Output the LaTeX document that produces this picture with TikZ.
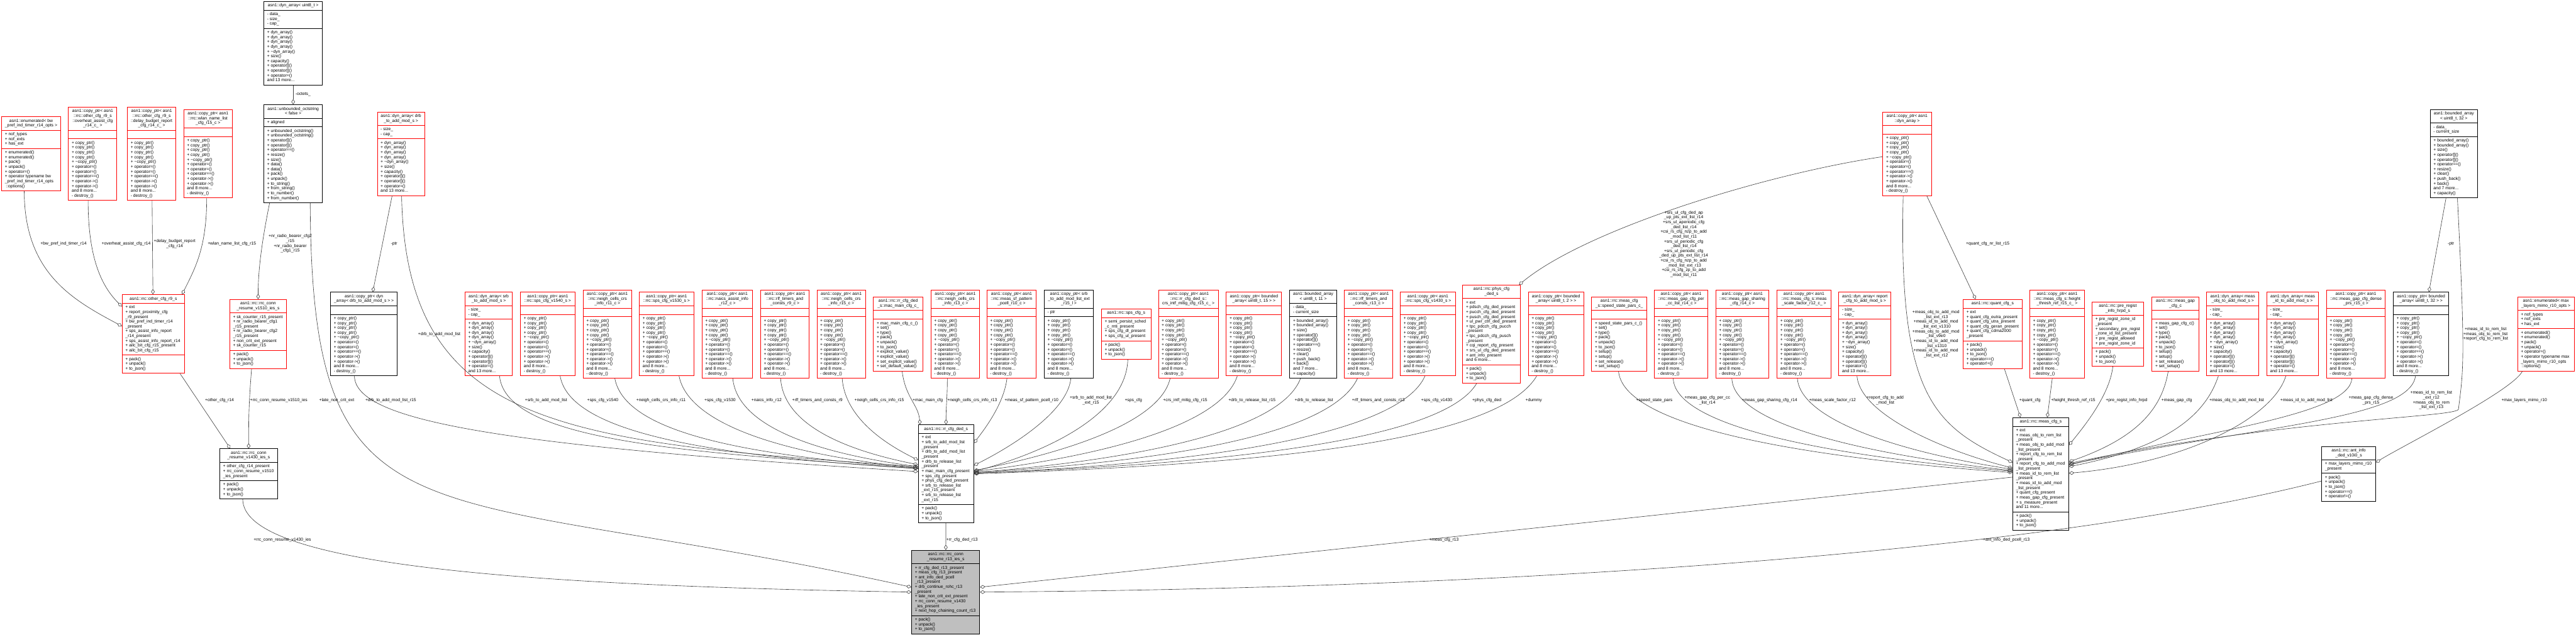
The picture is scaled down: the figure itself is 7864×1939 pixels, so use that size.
\documentclass[tikz,border=0pt]{standalone}
\usepackage{fontspec}
\setmainfont{Liberation Sans}
\usetikzlibrary{shapes.multipart,arrows.meta}

\definecolor{doxred}{HTML}{FF0000}
\definecolor{edgegray}{HTML}{404040}
\definecolor{rootgray}{HTML}{BFBFBF}

% class box: title / attributes / methods
\newcommand{\clsparts}[3]{%
  \begin{tabular}{@{}c@{}}#1\end{tabular}%
  \nodepart{two}\begin{tabular}{@{}l@{}}\strut#2\end{tabular}%
  \nodepart{three}\begin{tabular}{@{}l@{}}#3\end{tabular}}
\newcommand{\cpmeth}{+ copy\_ptr()\\+ copy\_ptr()\\+ copy\_ptr()\\+ copy\_ptr()\\+ \textasciitilde copy\_ptr()\\+ operator=()\\+ operator=()\\+ operator==()\\+ operator->()\\+ operator->()\\and 8 more...\\- destroy\_()}
\newcommand{\dynattr}{- size\_\\- cap\_}
\newcommand{\dynmeth}{+ dyn\_array()\\+ dyn\_array()\\+ dyn\_array()\\+ dyn\_array()\\+ \textasciitilde dyn\_array()\\+ size()\\+ capacity()\\+ operator[]()\\+ operator[]()\\+ operator=()\\and 13 more...}
\newcommand{\bameth}{+ bounded\_array()\\+ bounded\_array()\\+ size()\\+ operator[]()\\+ operator[]()\\+ operator==()\\+ resize()\\+ clear()\\+ push\_back()\\+ back()\\and 7 more...\\+ capacity()}
\newcommand{\pujson}{+ pack()\\+ unpack()\\+ to\_json()}
\newcommand{\enumattr}{+ nof\_types\\+ nof\_exts\\+ has\_ext}

\begin{document}
\begin{tikzpicture}[x=0.5pt, y=-0.5pt,
    cls/.style={rectangle split, rectangle split parts=3,
                rectangle split part align={center,left,left},
                draw, fill=white, line width=0.9pt, inner xsep=5pt, inner ysep=2.5pt,
                font=\fontsize{6.5}{7.33}\selectfont},
    undoc/.style={cls, draw=doxred},
    doc/.style={cls, draw=black},
    focus/.style={cls, draw=black, fill=rootgray},
    aggr/.style={draw=edgegray, line width=0.6pt, -{Diamond[open, length=8pt, width=5.5pt]}},
    lbl/.style={font=\fontsize{6.5}{7.33}\selectfont, align=center, inner sep=0pt}
]
    \fill[white] (0,0) rectangle (7864,1939);
    \useasboundingbox (0,0) rectangle (7864,1939);

    % top rows
    \node[doc, minimum width=89.5pt] (uint8) at (895,132) {\clsparts{asn1::dyn\_array< uint8\_t >}{- data\_\\- size\_\\- cap\_}{\dynmeth}};
    \node[doc, minimum width=89.5pt] (octstr) at (895,469.5) {\clsparts{asn1::unbounded\_octstring\\< false >}{+ aligned}{+ unbounded\_octstring()\\+ unbounded\_octstring()\\+ operator[]()\\+ operator[]()\\+ operator==()\\+ resize()\\+ size()\\+ data()\\+ data()\\+ pack()\\+ unpack()\\+ to\_string()\\+ from\_string()\\+ to\_number()\\+ from\_number()}};
    \node[undoc, minimum width=90pt] (enumbw) at (95,469.5) {\clsparts{asn1::enumerated< bw\\\_pref\_ind\_timer\_r14\_opts >}{\enumattr}{+ enumerated()\\+ enumerated()\\+ pack()\\+ unpack()\\+ operator=()\\+ operator typename bw\\\_pref\_ind\_timer\_r14\_opts\\\hspace{1.5pt}::options()}};
    \node[undoc, minimum width=74pt] (cpoverheat) at (283,469.5) {\clsparts{asn1::copy\_ptr< asn1\\::rrc::other\_cfg\_r9\_s\\::overheat\_assist\_cfg\\\_r14\_c\_ >}{}{\cpmeth}};
    \node[undoc, minimum width=74pt] (cpdelay) at (463,469.5) {\clsparts{asn1::copy\_ptr< asn1\\::rrc::other\_cfg\_r9\_s\\::delay\_budget\_report\\\_cfg\_r14\_c\_ >}{}{\cpmeth}};
    \node[undoc, minimum width=74pt] (cpwlan) at (635,469.5) {\clsparts{asn1::copy\_ptr< asn1\\::rrc::wlan\_name\_list\\\_cfg\_r15\_c >}{}{\cpmeth}};
    \node[undoc, minimum width=72pt] (dyndrb) at (1224,469.5) {\clsparts{asn1::dyn\_array< drb\\\_to\_add\_mod\_s >}{\dynattr}{\dynmeth}};
    \node[undoc, minimum width=74pt] (cpdyn) at (5822,469.5) {\clsparts{asn1::copy\_ptr< asn1\\::dyn\_array >}{}{\cpmeth}};
    \node[doc, minimum width=72pt] (ba32) at (7491,469.5) {\clsparts{asn1::bounded\_array\\< uint8\_t, 32 >}{- data\_\\- current\_size}{\bameth}};

    % member types
    \node[undoc, minimum width=95pt] (other) at (468,1020) {\clsparts{asn1::rrc::other\_cfg\_r9\_s}{+ ext\\+ report\_proximity\_cfg\\\_r9\_present\\+ bw\_pref\_ind\_timer\_r14\\\_present\\+ sps\_assist\_info\_report\\\_r14\_present\\+ sps\_assist\_info\_report\_r14\\+ ailc\_bit\_cfg\_r15\_present\\+ ailc\_bit\_cfg\_r15}{\pujson}};
    \node[undoc, minimum width=86.5pt] (v1510) at (788,1020) {\clsparts{asn1::rrc::rrc\_conn\\\_resume\_v1510\_ies\_s}{+ sk\_counter\_r15\_present\\+ nr\_radio\_bearer\_cfg1\\\_r15\_present\\+ nr\_radio\_bearer\_cfg2\\\_r15\_present\\+ non\_crit\_ext\_present\\+ sk\_counter\_r15}{\pujson}};
    \node[doc, minimum width=102pt] (cpdrb) at (1111,1020) {\clsparts{asn1::copy\_ptr< dyn\\\_array< drb\_to\_add\_mod\_s > >}{}{\cpmeth}};
    \node[undoc, minimum width=72.5pt] (dynsrb) at (1492,1020) {\clsparts{asn1::dyn\_array< srb\\\_to\_add\_mod\_s >}{\dynattr}{\dynmeth}};
    \node[undoc, minimum width=83pt] (cpsps1540) at (1672,1020) {\clsparts{asn1::copy\_ptr< asn1\\::rrc::sps\_cfg\_v1540\_s >}{}{\cpmeth}};
    \node[undoc, minimum width=74pt] (cpcrs11) at (1854,1020) {\clsparts{asn1::copy\_ptr< asn1\\::rrc::neigh\_cells\_crs\\\_info\_r11\_c >}{}{\cpmeth}};
    \node[undoc, minimum width=83pt] (cpsps1530) at (2035,1020) {\clsparts{asn1::copy\_ptr< asn1\\::rrc::sps\_cfg\_v1530\_s >}{}{\cpmeth}};
    \node[undoc, minimum width=77pt] (cpnaics) at (2220,1020) {\clsparts{asn1::copy\_ptr< asn1\\::rrc::naics\_assist\_info\\\_r12\_c >}{}{\cpmeth}};
    \node[undoc, minimum width=74pt] (cprlf9) at (2396,1020) {\clsparts{asn1::copy\_ptr< asn1\\::rrc::rlf\_timers\_and\\\_consts\_r9\_c >}{}{\cpmeth}};
    \node[undoc, minimum width=74pt] (cpcrs15) at (2568,1020) {\clsparts{asn1::copy\_ptr< asn1\\::rrc::neigh\_cells\_crs\\\_info\_r15\_c >}{}{\cpmeth}};
    \node[undoc, minimum width=75.5pt] (mac) at (2742,1020) {\clsparts{asn1::rrc::rr\_cfg\_ded\\\_s::mac\_main\_cfg\_c\_}{}{+ mac\_main\_cfg\_c\_()\\+ set()\\+ type()\\+ pack()\\+ unpack()\\+ to\_json()\\+ explicit\_value()\\+ explicit\_value()\\+ set\_explicit\_value()\\+ set\_default\_value()}};
    \node[undoc, minimum width=74pt] (cpcrs13) at (2916,1020) {\clsparts{asn1::copy\_ptr< asn1\\::rrc::neigh\_cells\_crs\\\_info\_r13\_c >}{}{\cpmeth}};
    \node[undoc, minimum width=75.5pt] (cpmeassf) at (3088,1020) {\clsparts{asn1::copy\_ptr< asn1\\::rrc::meas\_sf\_pattern\\\_pcell\_r10\_c >}{}{\cpmeth}};
    \node[doc, minimum width=75pt] (cpsrbext) at (3263,1020) {\clsparts{asn1::copy\_ptr< srb\\\_to\_add\_mod\_list\_ext\\\_r15\_l >}{- ptr}{\cpmeth}};
    \node[undoc, minimum width=75.5pt] (sps) at (3438,1020) {\clsparts{asn1::rrc::sps\_cfg\_s}{+ semi\_persist\_sched\\\_c\_rnti\_present\\+ sps\_cfg\_dl\_present\\+ sps\_cfg\_ul\_present}{\pujson}};
    \node[undoc, minimum width=91.5pt] (cpcrsintf) at (3628,1020) {\clsparts{asn1::copy\_ptr< asn1\\::rrc::rr\_cfg\_ded\_s::\\crs\_intf\_mitig\_cfg\_r15\_c\_ >}{}{\cpmeth}};
    \node[undoc, minimum width=84.5pt] (cpba15) at (3828,1020) {\clsparts{asn1::copy\_ptr< bounded\\\_array< uint8\_t, 15 > >}{}{\cpmeth}};
    \node[doc, minimum width=71pt] (ba11) at (4009,1020) {\clsparts{asn1::bounded\_array\\< uint8\_t, 11 >}{- data\_\\- current\_size}{\bameth}};
    \node[undoc, minimum width=74pt] (cprlf13) at (4178,1020) {\clsparts{asn1::copy\_ptr< asn1\\::rrc::rlf\_timers\_and\\\_consts\_r13\_c >}{}{\cpmeth}};
    \node[undoc, minimum width=84pt] (cpsps1430) at (4359,1020) {\clsparts{asn1::copy\_ptr< asn1\\::rrc::sps\_cfg\_v1430\_s >}{}{\cpmeth}};
    \node[undoc, minimum width=87.5pt] (phys) at (4553,1020) {\clsparts{asn1::rrc::phys\_cfg\\\_ded\_s}{+ ext\\+ pdsch\_cfg\_ded\_present\\+ pucch\_cfg\_ded\_present\\+ pusch\_cfg\_ded\_present\\+ ul\_pwr\_ctrl\_ded\_present\\+ tpc\_pdcch\_cfg\_pucch\\\_present\\+ tpc\_pdcch\_cfg\_pusch\\\_present\\+ cqi\_report\_cfg\_present\\+ srs\_ul\_cfg\_ded\_present\\+ ant\_info\_present\\and 6 more...}{\pujson}};
    \node[undoc, minimum width=84.5pt] (cpba2) at (4750,1020) {\clsparts{asn1::copy\_ptr< bounded\\\_array< uint8\_t, 2 > >}{}{\cpmeth}};
    \node[undoc, minimum width=84pt] (speed) at (4943,1020) {\clsparts{asn1::rrc::meas\_cfg\\\_s::speed\_state\_pars\_c\_}{}{+ speed\_state\_pars\_c\_()\\+ set()\\+ type()\\+ pack()\\+ unpack()\\+ to\_json()\\+ setup()\\+ setup()\\+ set\_release()\\+ set\_setup()}};
    \node[undoc, minimum width=81pt] (cpgapcc) at (5132,1020) {\clsparts{asn1::copy\_ptr< asn1\\::rrc::meas\_gap\_cfg\_per\\\_cc\_list\_r14\_c >}{}{\cpmeth}};
    \node[undoc, minimum width=81pt] (cpgapshare) at (5319,1020) {\clsparts{asn1::copy\_ptr< asn1\\::rrc::meas\_gap\_sharing\\\_cfg\_r14\_c >}{}{\cpmeth}};
    \node[undoc, minimum width=82pt] (cpscale) at (5507,1020) {\clsparts{asn1::copy\_ptr< asn1\\::rrc::meas\_cfg\_s::meas\\\_scale\_factor\_r12\_c\_ >}{}{\cpmeth}};
    \node[undoc, minimum width=79.5pt] (dynreport) at (5693,1020) {\clsparts{asn1::dyn\_array< report\\\_cfg\_to\_add\_mod\_s >}{\dynattr}{\dynmeth}};
    \node[undoc, minimum width=89.5pt] (quant) at (6083,1020) {\clsparts{asn1::rrc::quant\_cfg\_s}{+ ext\\+ quant\_cfg\_eutra\_present\\+ quant\_cfg\_utra\_present\\+ quant\_cfg\_geran\_present\\+ quant\_cfg\_cdma2000\\\_present}{\pujson\\+ operator==()\\+ operator!=()}};
    \node[undoc, minimum width=83.5pt] (cpheight) at (6280,1020) {\clsparts{asn1::copy\_ptr< asn1\\::rrc::meas\_cfg\_s::height\\\_thresh\_ref\_r15\_c\_ >}{}{\cpmeth}};
    \node[undoc, minimum width=77.5pt] (preregist) at (6465,1020) {\clsparts{asn1::rrc::pre\_regist\\\_info\_hrpd\_s}{+ pre\_regist\_zone\_id\\\_present\\+ secondary\_pre\_regist\\\_zone\_id\_list\_present\\+ pre\_regist\_allowed\\+ pre\_regist\_zone\_id}{\pujson}};
    \node[undoc, minimum width=71.5pt] (gap) at (6641,1020) {\clsparts{asn1::rrc::meas\_gap\\\_cfg\_c}{}{+ meas\_gap\_cfg\_c()\\+ set()\\+ type()\\+ pack()\\+ unpack()\\+ to\_json()\\+ setup()\\+ setup()\\+ set\_release()\\+ set\_setup()}};
    \node[undoc, minimum width=79.5pt] (dynmeasobj) at (6816,1020) {\clsparts{asn1::dyn\_array< meas\\\_obj\_to\_add\_mod\_s >}{\dynattr}{\dynmeth}};
    \node[undoc, minimum width=79pt] (dynmeasid) at (6999,1020) {\clsparts{asn1::dyn\_array< meas\\\_id\_to\_add\_mod\_s >}{\dynattr}{\dynmeth}};
    \node[undoc, minimum width=90pt] (cpdense) at (7192,1020) {\clsparts{asn1::copy\_ptr< asn1\\::rrc::meas\_gap\_cfg\_dense\\\_prs\_r15\_c >}{}{\cpmeth}};
    \node[doc, minimum width=84.5pt] (cpba32) at (7391,1020) {\clsparts{asn1::copy\_ptr< bounded\\\_array< uint8\_t, 32 > >}{}{\cpmeth}};
    \node[undoc, minimum width=86.5pt] (enummimo) at (7772,1020) {\clsparts{asn1::enumerated< max\\\_layers\_mimo\_r10\_opts >}{\enumattr}{+ enumerated()\\+ enumerated()\\+ pack()\\+ unpack()\\+ operator=()\\+ operator typename max\\\_layers\_mimo\_r10\_opts\\\hspace{1.5pt}::options()}};

    % containers
    \node[doc, minimum width=88pt] (v1430) at (759,1447) {\clsparts{asn1::rrc::rrc\_conn\\\_resume\_v1430\_ies\_s}{+ other\_cfg\_r14\_present\\+ rrc\_conn\_resume\_v1510\\\_ies\_present}{\pujson}};
    \node[doc, minimum width=84.5pt] (rr) at (2888,1447) {\clsparts{asn1::rrc::rr\_cfg\_ded\_s}{+ ext\\+ srb\_to\_add\_mod\_list\\\_present\\+ drb\_to\_add\_mod\_list\\\_present\\+ drb\_to\_release\_list\\\_present\\+ mac\_main\_cfg\_present\\+ sps\_cfg\_present\\+ phys\_cfg\_ded\_present\\+ srb\_to\_release\_list\\\_ext\_r15\_present\\+ srb\_to\_release\_list\\\_ext\_r15}{\pujson}};
    \node[doc, minimum width=85.5pt] (meascfg) at (6230,1447) {\clsparts{asn1::rrc::meas\_cfg\_s}{+ ext\\+ meas\_obj\_to\_rem\_list\\\_present\\+ meas\_obj\_to\_add\_mod\\\_list\_present\\+ report\_cfg\_to\_rem\_list\\\_present\\+ report\_cfg\_to\_add\_mod\\\_list\_present\\+ meas\_id\_to\_rem\_list\\\_present\\+ meas\_id\_to\_add\_mod\\\_list\_present\\+ quant\_cfg\_present\\+ meas\_gap\_cfg\_present\\+ s\_measure\_present\\and 11 more...}{\pujson}};
    \node[doc, minimum width=82.5pt] (ant) at (7170,1447) {\clsparts{asn1::rrc::ant\_info\\\_ded\_v10i0\_s}{+ max\_layers\_mimo\_r10\\\_present}{\pujson\\+ operator==()\\+ operator!=()}};
    \node[focus, minimum width=104pt] (root) at (2887,1808) {\clsparts{asn1::rrc::rrc\_conn\\\_resume\_r13\_ies\_s}{+ rr\_cfg\_ded\_r13\_present\\+ meas\_cfg\_r13\_present\\+ ant\_info\_ded\_pcell\\\_r13\_present\\+ drb\_continue\_rohc\_r13\\\_present\\+ late\_non\_crit\_ext\_present\\+ rrc\_conn\_resume\_v1430\\\_ies\_present\\+ next\_hop\_chaining\_count\_r13}{\pujson}};

    % left part
    \draw[aggr] (uint8) -- (octstr) node[lbl] (lOctets) at (925,288) {-octets\_};
    \draw[aggr] ([xshift=-10.5pt]enumbw.south) .. controls +(0,250) and +(-150,-80) .. ([yshift=12pt]other.west) node[lbl] (lBw) at (194,744) {+bw\_pref\_ind\_timer\_r14};
    \draw[aggr] ([xshift=-7pt]cpoverheat.south) .. controls +(0,180) and +(-60,-60) .. ([yshift=42pt]other.west) node[lbl] (lOverheat) at (385,744) {+overheat\_assist\_cfg\_r14};
    \draw[aggr] (cpdelay) -- (other) node[lbl] (lDelay) at (533,744) {+delay\_budget\_report\\\_cfg\_r14};
    \draw[aggr] ([xshift=-2pt]cpwlan.south) .. controls +(0,150) and +(40,-80) .. ([xshift=-4pt]other.north east) node[lbl] (lWlan) at (708,744) {+wlan\_name\_list\_cfg\_r15};
    \draw[aggr] ([xshift=-36pt]octstr.south) .. controls +(-20,100) and +(0,-100) .. (v1510.north) node[lbl] (lNr) at (886,744) {+nr\_radio\_bearer\_cfg2\\\_r15\\+nr\_radio\_bearer\\\_cfg1\_r15};
    \draw[aggr] ([xshift=41pt]other.south) -- ([xshift=-28pt]v1430.north) node[lbl] (lOther) at (670,1222) {+other\_cfg\_r14};
    \draw[aggr] ([xshift=-10pt]v1510.south) .. controls +(-8,100) and +(0,-100) .. (v1430.north) node[lbl] (lV1510) at (851,1222) {+rrc\_conn\_resume\_v1510\_ies};
    \draw[aggr] ([xshift=-9pt]v1430.south) .. controls +(0,200) and +(-1200,-20) .. (root.west) node[lbl] (lV1430) at (862,1648) {+rrc\_conn\_resume\_v1430\_ies};
    \draw[aggr] ([xshift=26pt]octstr.south) .. controls +(5,1083) and +(-1500,-330) .. ([yshift=7.5pt]root.west) node[lbl] (lLate) at (1028,1222) {+late\_non\_crit\_ext};
    \draw[aggr] ([xshift=-13.5pt]dyndrb.south) -- ([xshift=13.5pt]cpdrb.north) node[lbl] (lPtrDrb) at (1203,744) {-ptr};
    \draw[aggr] ([xshift=1pt]dyndrb.south) .. controls +(14,700) and +(-1103,-75) .. ([yshift=11pt]rr.west) node[lbl] (lDrbList) at (1341,1020) {+drb\_to\_add\_mod\_list};
    \draw[aggr] ([xshift=-14.5pt]cpdrb.south) .. controls +(3,134) and +(-1300,-80) .. ([yshift=3.5pt]rr.west) node[lbl] (lDrbR15) at (1193,1222) {+drb\_to\_add\_mod\_list\_r15};

    % into rr_cfg_ded_s
    \draw[aggr] ([xshift=16.5pt]dynsrb.south) .. controls +(20,200) and +(-700,-50) .. ([yshift=8pt]rr.west) node[lbl] (lSrb) at (1667,1222) {+srb\_to\_add\_mod\_list};
    \draw[aggr] ([xshift=19pt]cpsps1540.south) .. controls +(30,170) and +(-650,-40) .. ([yshift=8pt]rr.west) node[lbl] (lSps1540) at (1840,1222) {+sps\_cfg\_v1540};
    \draw[aggr] ([xshift=11.5pt]cpcrs11.south) .. controls +(30,160) and +(-550,-40) .. ([yshift=9pt]rr.west) node[lbl] (lCrs11) at (2018,1222) {+neigh\_cells\_crs\_info\_r11};
    \draw[aggr] ([xshift=19pt]cpsps1530.south) .. controls +(30,150) and +(-400,-40) .. ([yshift=9pt]rr.west) node[lbl] (lSps1530) at (2198,1222) {+sps\_cfg\_v1530};
    \draw[aggr] ([xshift=8.5pt]cpnaics.south) .. controls +(15,150) and +(-300,-40) .. ([yshift=11pt]rr.west) node[lbl] (lNaics) at (2340,1222) {+naics\_info\_r12};
    \draw[aggr] ([xshift=-6.5pt]cprlf9.south) .. controls +(10,150) and +(-200,-40) .. ([yshift=14pt]rr.west) node[lbl] (lRlf9) at (2495,1222) {+rlf\_timers\_and\_consts\_r9};
    \draw[aggr] ([xshift=1.5pt]cpcrs15.south) .. controls +(10,130) and +(-80,-40) .. ([yshift=21pt]rr.west) node[lbl] (lCrs15) at (2684,1222) {+neigh\_cells\_crs\_info\_r15};
    \draw[aggr] ([xshift=6pt]mac.south) .. controls +(10,80) and +(-5,-60) .. ([xshift=3pt]rr.north west) node[lbl] (lMac) at (2832,1222) {+mac\_main\_cfg};
    \draw[aggr] ([xshift=-12pt]cpcrs13.south) .. controls +(0,60) and +(0,-60) .. (rr.north) node[lbl] (lCrs13) at (2968,1222) {+neigh\_cells\_crs\_info\_r13};
    \draw[aggr] ([xshift=-7pt]cpmeassf.south) .. controls +(-10,80) and +(30,-40) .. ([yshift=47pt]rr.east) node[lbl] (lMeasSf) at (3149,1222) {+meas\_sf\_pattern\_pcell\_r10};
    \draw[aggr] ([xshift=3pt]cpsrbext.south) .. controls +(-10,100) and +(120,-60) .. ([yshift=13pt]rr.east) node[lbl] (lSrbExt) at (3330,1222) {+srb\_to\_add\_mod\_list\\\_ext\_r15};
    \draw[aggr] ([xshift=2.5pt]sps.south) .. controls +(-5,170) and +(220,-60) .. ([yshift=3.5pt]rr.east) node[lbl] (lSps) at (3460,1222) {+sps\_cfg};
    \draw[aggr] ([xshift=-28pt]cpcrsintf.south) .. controls +(-30,130) and +(300,-60) .. ([yshift=5pt]rr.east) node[lbl] (lCrsIntf) at (3618,1222) {+crs\_intf\_mitig\_cfg\_r15};
    \draw[aggr] ([xshift=-25.5pt]cpba15.south) .. controls +(-50,150) and +(400,-50) .. ([yshift=3.5pt]rr.east) node[lbl] (lDrbRel15) at (3822,1222) {+drb\_to\_release\_list\_r15};
    \draw[aggr] ([xshift=-19.5pt]ba11.south) .. controls +(-60,160) and +(500,-40) .. ([yshift=2pt]rr.east) node[lbl] (lDrbRel) at (4011,1222) {+drb\_to\_release\_list};
    \draw[aggr] ([xshift=-17pt]cprlf13.south) .. controls +(-80,170) and +(600,-35) .. ([yshift=2pt]rr.east) node[lbl] (lRlf13) at (4208,1222) {+rlf\_timers\_and\_consts\_r13};
    \draw[aggr] ([xshift=-4.5pt]cpsps1430.south) .. controls +(-80,180) and +(700,-30) .. ([yshift=1pt]rr.east) node[lbl] (lSps1430) at (4386,1222) {+sps\_cfg\_v1430};
    \draw[aggr] ([xshift=-22.5pt]phys.south) .. controls +(-100,170) and +(800,-30) .. ([yshift=1pt]rr.east) node[lbl] (lPhys) at (4539,1222) {+phys\_cfg\_ded};
    \draw[aggr] ([xshift=-29.5pt]cpba2.south) .. controls +(-120,200) and +(900,-30) .. (rr.east) node[lbl] (lDummy) at (4682,1222) {+dummy};
    \draw[aggr] ([yshift=-4.5pt]cpdyn.west) .. controls +(-348,51) and +(209,-172) .. ([xshift=-2pt]phys.north east) node[lbl] (lSrs) at (5140,745) {+srs\_ul\_cfg\_ded\_ap\\\_up\_pts\_ext\_list\_r14\\+srs\_ul\_aperiodic\_cfg\\\_ded\_list\_r14\\+csi\_rs\_cfg\_nzp\_to\_add\\\_mod\_list\_r11\\+srs\_ul\_periodic\_cfg\\\_ded\_list\_r14\\+srs\_ul\_periodic\_cfg\\\_ded\_up\_pts\_ext\_list\_r14\\+csi\_rs\_cfg\_nzp\_to\_add\\\_mod\_list\_ext\_r13\\+csi\_rs\_cfg\_zp\_to\_add\\\_mod\_list\_r11};

    % into meas_cfg_s
    \draw[aggr] ([xshift=-6pt]cpdyn.south) .. controls +(-15,604) and +(-244,-112) .. ([yshift=17.5pt]meascfg.west) node[lbl] (lMeasLists) at (5910,1020) {+meas\_obj\_to\_add\_mod\\\_list\_ext\_r13\\+meas\_id\_to\_add\_mod\\\_list\_ext\_v1310\\+meas\_obj\_to\_add\_mod\\\_list\_v9e0\\+meas\_id\_to\_add\_mod\\\_list\_v1310\\+meas\_id\_to\_add\_mod\\\_list\_ext\_r12};
    \draw[aggr] ([xshift=30pt]cpdyn.south) -- ([xshift=-26pt]quant.north) node[lbl] (lQuantNr) at (6068,744) {+quant\_cfg\_nr\_list\_r15};
    \draw[aggr] ([xshift=-1pt]speed.south) .. controls +(15,160) and +(-700,-50) .. ([yshift=2pt]meascfg.west) node[lbl] (lSpeed) at (5050,1222) {+speed\_state\_pars};
    \draw[aggr] ([xshift=-12pt]cpgapcc.south) .. controls +(5,140) and +(-600,-50) .. ([yshift=4pt]meascfg.west) node[lbl] (lGapCc) at (5212,1222) {+meas\_gap\_cfg\_per\_cc\\\_list\_r14};
    \draw[aggr] ([xshift=-16pt]cpgapshare.south) .. controls +(5,140) and +(-450,-50) .. ([yshift=5pt]meascfg.west) node[lbl] (lGapShare) at (5402,1222) {+meas\_gap\_sharing\_cfg\_r14};
    \draw[aggr] ([xshift=-10pt]cpscale.south) .. controls +(10,130) and +(-330,-50) .. ([yshift=7pt]meascfg.west) node[lbl] (lScale) at (5594,1222) {+meas\_scale\_factor\_r12};
    \draw[aggr] ([xshift=-12pt]dynreport.south) .. controls +(10,120) and +(-200,-50) .. ([yshift=9pt]meascfg.west) node[lbl] (lReport) at (5755,1222) {+report\_cfg\_to\_add\\\_mod\_list};
    \draw[aggr] ([xshift=18pt]quant.south) -- ([xshift=-31pt]meascfg.north) node[lbl] (lQuant) at (6197,1222) {+quant\_cfg};
    \draw[aggr] ([xshift=-7.5pt]cpheight.south) -- ([xshift=10pt]meascfg.north) node[lbl] (lHeight) at (6329,1222) {+height\_thresh\_ref\_r15};
    \draw[aggr] ([xshift=-7.5pt]preregist.south) .. controls +(-10,90) and +(40,-50) .. ([yshift=44pt]meascfg.east) node[lbl] (lPreRegist) at (6492,1222) {+pre\_regist\_info\_hrpd};
    \draw[aggr] ([xshift=-11pt]gap.south) .. controls +(-20,120) and +(200,-70) .. ([yshift=18.5pt]meascfg.east) node[lbl] (lGap) at (6645,1222) {+meas\_gap\_cfg};
    \draw[aggr] ([xshift=-22pt]dynmeasobj.south) .. controls +(-40,120) and +(300,-60) .. ([yshift=11pt]meascfg.east) node[lbl] (lMeasObj) at (6828,1222) {+meas\_obj\_to\_add\_mod\_list};
    \draw[aggr] ([xshift=-10.5pt]dynmeasid.south) .. controls +(-40,130) and +(350,-30) .. ([yshift=1pt]meascfg.east) node[lbl] (lMeasId) at (7041,1222) {+meas\_id\_to\_add\_mod\_list};
    \draw[aggr] ([xshift=-6pt]cpdense.south) .. controls +(-10,110) and +(450,-110) .. ([yshift=13.5pt]meascfg.east) node[lbl] (lDense) at (7238,1222) {+meas\_gap\_cfg\_dense\\\_prs\_r15};
    \draw[aggr] ([xshift=-8.5pt]cpba32.south) .. controls +(-20,130) and +(600,-120) .. ([yshift=14.5pt]meascfg.east) node[lbl] (lRemExt) at (7422,1222) {+meas\_id\_to\_rem\_list\\\_ext\_r12\\+meas\_obj\_to\_rem\\\_list\_ext\_r13};
    \draw[aggr] ([xshift=-12pt]ba32.south) -- ([xshift=12pt]cpba32.north) node[lbl] (lPtrBa) at (7482,744) {-ptr};
    \draw[aggr] ([xshift=5.5pt]ba32.south) .. controls +(25,500) and +(15,-120) .. (7505,1250) .. controls +(-10,25) and +(650,-135) .. ([yshift=16pt]meascfg.east) node[lbl] (lRem) at (7588,1020) {+meas\_id\_to\_rem\_list\\+meas\_obj\_to\_rem\_list\\+report\_cfg\_to\_rem\_list};
    \draw[aggr] ([xshift=-36pt]enummimo.south) .. controls +(-30,60) and +(80,-50) .. ([yshift=17.5pt]ant.east) node[lbl] (lMimo) at (7706,1222) {+max\_layers\_mimo\_r10};

    % into the focus class
    \draw[aggr] (rr) -- (root) node[lbl] (lRr) at (2937,1648) {+rr\_cfg\_ded\_r13};
    \draw[aggr] ([yshift=-5pt]meascfg.west) -- ([yshift=7.5pt]root.east) node[lbl] (lMeasCfg) at (4408,1648) {+meas\_cfg\_r13};
    \draw[aggr] ([yshift=-11pt]ant.west) .. controls +(-900,230) and +(1500,-10) .. (root.east) node[lbl] (lAnt) at (6125,1648) {+ant\_info\_ded\_pcell\_r13};
\end{tikzpicture}
\end{document}
